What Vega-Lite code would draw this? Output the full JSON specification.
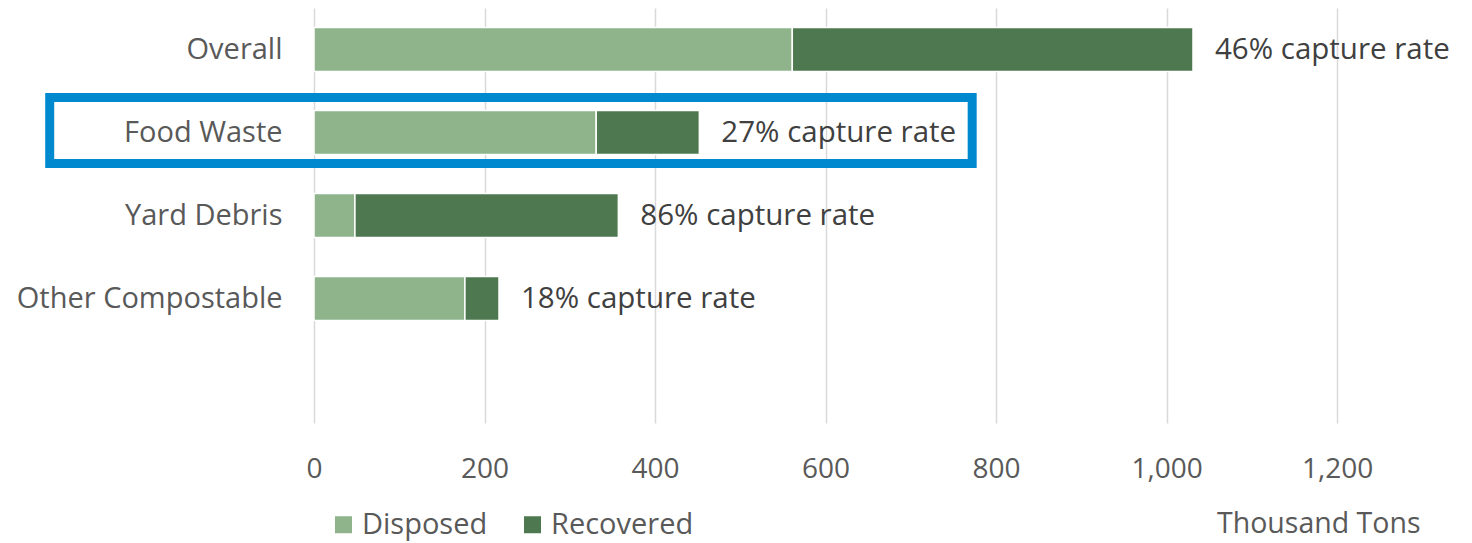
{
  "$schema": "https://vega.github.io/schema/vega-lite/v6.json",
  "autosize": "none",
  "width": 1145,
  "height": 415,
  "padding": {"left": 314, "top": 8, "right": 13, "bottom": 120},
  "background": "white",
  "config": {
    "view": {"stroke": null},
    "font": "Open Sans",
    "axis": {"labelFont": "Open Sans", "titleFont": "Open Sans"},
    "legend": {"labelFont": "Open Sans"}
  },
  "datasets": {
    "bars": [
      {"category": "Overall", "type": "Disposed", "tons": 561},
      {"category": "Overall", "type": "Recovered", "tons": 470},
      {"category": "Food Waste", "type": "Disposed", "tons": 331},
      {"category": "Food Waste", "type": "Recovered", "tons": 121},
      {"category": "Yard Debris", "type": "Disposed", "tons": 48},
      {"category": "Yard Debris", "type": "Recovered", "tons": 309},
      {"category": "Other Compostable", "type": "Disposed", "tons": 177},
      {"category": "Other Compostable", "type": "Recovered", "tons": 40}
    ],
    "labels": [
      {"category": "Overall", "total": 1031, "label": "46% capture rate"},
      {"category": "Food Waste", "total": 452, "label": "27% capture rate"},
      {"category": "Yard Debris", "total": 357, "label": "86% capture rate"},
      {"category": "Other Compostable", "total": 217, "label": "18% capture rate"}
    ],
    "highlight": [
      {"category": "Food Waste", "start": -310, "end": 772}
    ]
  },
  "layer": [
    {
      "data": {"name": "bars"},
      "mark": {"type": "bar", "stroke": "white", "strokeWidth": 1.5},
      "encoding": {
        "y": {
          "field": "category",
          "type": "nominal",
          "sort": null,
          "scale": {"domain": ["Overall", "Food Waste", "Yard Debris", "Other Compostable", " "], "paddingInner": 0.47, "paddingOuter": 0.235},
          "axis": {
            "title": null,
            "ticks": false,
            "domain": false,
            "labelFontSize": 29,
            "labelColor": "#595959",
            "labelPadding": 32,
            "labelLimit": 400
          }
        },
        "x": {
          "field": "tons",
          "type": "quantitative",
          "stack": "zero",
          "scale": {"domain": [0, 1343], "nice": false, "zero": true},
          "axis": {
            "values": [0, 200, 400, 600, 800, 1000, 1200],
            "format": ",d",
            "grid": true,
            "gridColor": "#d9d9d9",
            "gridWidth": 1.5,
            "ticks": false,
            "domain": false,
            "labelFlush": false,
            "labelFontSize": 28,
            "labelColor": "#595959",
            "labelPadding": 32,
            "title": "Thousand Tons",
            "titleFontSize": 28.5,
            "titleFontWeight": "normal",
            "titleColor": "#595959",
            "titleAnchor": "end",
            "titleAlign": "right",
            "titleBaseline": "middle",
            "titleX": 1106,
            "titleY": 100
          }
        },
        "color": {
          "field": "type",
          "type": "nominal",
          "scale": {"domain": ["Disposed", "Recovered"], "range": ["#8fb48c", "#4e7850"]},
          "legend": {
            "title": null,
            "orient": "none",
            "direction": "horizontal",
            "legendX": 15,
            "legendY": 502,
            "symbolType": "square",
            "symbolSize": 289,
            "symbolStrokeWidth": 0,
            "labelFontSize": 29,
            "labelColor": "#595959",
            "columnPadding": 30,
            "labelOffset": 4
          }
        },
        "order": {"field": "type", "sort": "ascending"}
      }
    },
    {
      "data": {"name": "labels"},
      "mark": {"type": "text", "align": "left", "baseline": "middle", "dx": 22, "fontSize": 29.5, "color": "#404040"},
      "encoding": {
        "y": {"field": "category", "type": "nominal", "sort": null},
        "x": {"field": "total", "type": "quantitative"},
        "text": {"field": "label"}
      }
    },
    {
      "data": {"name": "highlight"},
      "mark": {"type": "bar", "fill": null, "fillOpacity": 0, "stroke": "#0089cf", "strokeWidth": 9, "height": 66, "yOffset": -2},
      "encoding": {
        "y": {"field": "category", "type": "nominal", "sort": null},
        "x": {"field": "start", "type": "quantitative"},
        "x2": {"field": "end"}
      }
    }
  ]
}
